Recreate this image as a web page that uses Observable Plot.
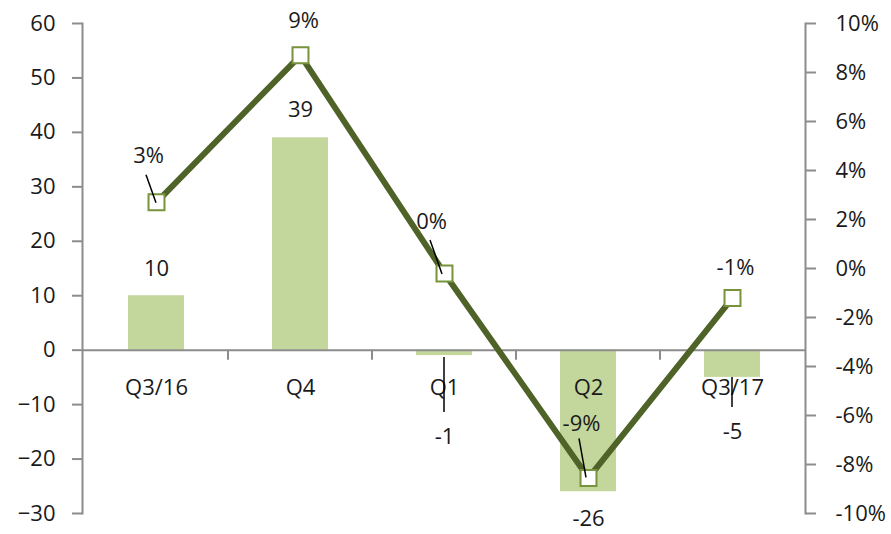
<!DOCTYPE html>
<html>
<head>
<meta charset="utf-8">
<script src="https://cdn.jsdelivr.net/npm/d3@7"></script>
<script src="https://cdn.jsdelivr.net/npm/@observablehq/plot@0.6"></script>
<style>
  body { margin: 0; background: #fff; }
  #chart svg { display: block; }
</style>
</head>
<body>
<div id="chart"></div>
<script>
// Quarterly flows (left axis, bars) and growth in % (right axis, line)
const quarters = ["Q3/16", "Q4", "Q1", "Q2", "Q3/17"];
const flows = [10, 39, -1, -26, -5];
const growthPct = [2.7, 8.7, -0.2, -8.55, -1.2];
const flowTicks = [-30, -20, -10, 0, 10, 20, 30, 40, 50, 60];
const growthTicks = [-10, -8, -6, -4, -2, 0, 2, 4, 6, 8, 10];

const rows = quarters.map((q, i) => ({q, flow: flows[i], pct: growthPct[i]}));

// The right axis (-10%..10%) shares the frame with the left one (-30..60)
const pctToFlow = p => 15 + 4.5 * p;
const flowToPct = v => (v - 15) / 4.5;
const fmtPct = p => `${Math.round(p) || 0}%`;

const barFill = "#c3d69b";
const lineColor = "#4f6228";
const markerStroke = "#77933c";
const axisGray = "#8c8c8c";
const ink = "#1a1a1a";
const font = "'Open Sans', 'Noto Sans', sans-serif";
const fs = 22;

// Label placement (pixel offsets from the bar end / marker centre)
const flowLabelDy = {"Q3/16": -27, "Q4": -28, "Q1": 81, "Q2": 27, "Q3/17": 55};
const pctLabelOffset = {"Q3/16": [-8, -46], "Q4": [3, -34], "Q1": [-13, -51], "Q2": [-7, -54], "Q3/17": [3, -30]};
// Leader lines: [x1, y1, x2, y2] relative to the anchor point
const pctLeaders = {"Q3/16": [-10, -27, 0, 1], "Q1": [-14, -33, -2, 1], "Q2": [-9, -39, -2, 0]};
const flowLeaders = {"Q1": [0, 2, 0, 57], "Q3/17": [0, 0, 0, 30]};

const textOpts = {fill: ink, fontSize: fs, fontFamily: font};

const labelMarks = [];
for (const d of rows) {
  labelMarks.push(Plot.text([d], {
    x: "q", y: "flow", text: r => `${r.flow}`, dy: flowLabelDy[d.q], ...textOpts
  }));
  const [dx, dy] = pctLabelOffset[d.q];
  labelMarks.push(Plot.text([d], {
    x: "q", y: r => pctToFlow(r.pct), text: r => fmtPct(r.pct), dx, dy, ...textOpts
  }));
}

const chart = Plot.plot({
  width: 891,
  height: 534,
  marginLeft: 82,
  marginRight: 86,
  marginTop: 23,
  marginBottom: 21,
  style: {fontFamily: font, fontSize: `${fs}px`, color: ink, background: "#fff"},
  x: {domain: quarters, padding: 0, axis: null},
  y: {domain: [-30, 60]},
  marks: [
    Plot.barY(rows, {x: "q", y: "flow", fill: barFill, insetLeft: 44, insetRight: 44}),
    Plot.ruleY([0], {stroke: axisGray, strokeWidth: 2}),
    Plot.axisY({
      anchor: "left", ticks: flowTicks, tickSize: 10, tickPadding: 17,
      stroke: axisGray, strokeWidth: 2, fill: ink, fontSize: fs, label: null
    }),
    Plot.axisY({
      anchor: "right", ticks: growthTicks.map(pctToFlow), tickFormat: v => fmtPct(flowToPct(v)),
      tickSize: 10, tickPadding: 20, stroke: axisGray, strokeWidth: 2, fill: ink, fontSize: fs, label: null
    }),
    Plot.frame({anchor: "left", stroke: axisGray, strokeWidth: 2}),
    Plot.frame({anchor: "right", stroke: axisGray, strokeWidth: 2}),
    Plot.line(rows, {x: "q", y: d => pctToFlow(d.pct), stroke: lineColor, strokeWidth: 6}),
    Plot.dot(rows, {
      x: "q", y: d => pctToFlow(d.pct), symbol: "square", r: 9,
      fill: "#fff", stroke: markerStroke, strokeWidth: 2
    }),
    Plot.text(rows, {x: "q", y: 0, text: "q", dy: 38, ...textOpts}),
    ...labelMarks
  ]
});

// Category separators on the zero line and label leader lines
const xs = chart.scale("x");
const ys = chart.scale("y");
const cx = q => xs.apply(q) + xs.bandwidth / 2;
const g = d3.select(chart).append("g");

g.selectAll("line.sep")
  .data(quarters.slice(1))
  .join("line")
  .attr("x1", q => xs.apply(q)).attr("x2", q => xs.apply(q))
  .attr("y1", ys.apply(0)).attr("y2", ys.apply(0) + 10)
  .attr("stroke", axisGray).attr("stroke-width", 2);

const leaders = [];
for (const d of rows) {
  if (pctLeaders[d.q]) leaders.push({x: cx(d.q), y: ys.apply(pctToFlow(d.pct)), o: pctLeaders[d.q]});
  if (flowLeaders[d.q]) leaders.push({x: cx(d.q), y: ys.apply(d.flow), o: flowLeaders[d.q]});
}
g.selectAll("line.leader")
  .data(leaders)
  .join("line")
  .attr("x1", l => l.x + l.o[0]).attr("y1", l => l.y + l.o[1])
  .attr("x2", l => l.x + l.o[2]).attr("y2", l => l.y + l.o[3])
  .attr("stroke", "#000").attr("stroke-width", 1.5);

document.getElementById("chart").append(chart);
</script>
</body>
</html>
